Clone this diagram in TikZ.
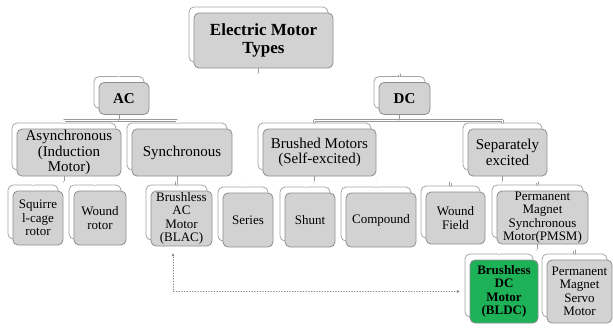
\documentclass[tikz,border=0pt]{standalone}
\usepackage{fontspec}
\setmainfont{Liberation Serif}
\usetikzlibrary{shadows,arrows.meta}
\definecolor{boxgray}{HTML}{D2D2D2}
\definecolor{edgegray}{HTML}{8E8E8E}
\definecolor{linegray}{HTML}{9A9A9A}
\definecolor{bldcgreen}{HTML}{1DB257}

\begin{document}
\begin{tikzpicture}[x=1pt, y=-1pt,
                    line cap=round, line join=round,
                    card/.style={draw=edgegray, fill=boxgray, rounded corners=5pt,
                      line width=0.8pt, inner sep=0pt, align=center,
                      copy shadow={shadow xshift=-5pt, shadow yshift=6pt,
                        fill=white, draw=edgegray!80}},
                    boxsize/.style 2 args={minimum width=#1, minimum height=#2},
                    lvlzero/.style={card, font=\fontsize{17}{18}\selectfont\bfseries},
                    lvlone/.style={card, font=\fontsize{15}{16}\selectfont\bfseries},
                    lvltwo/.style={card, font=\fontsize{15}{15.5}\selectfont},
                    lvlthree/.style={card, font=\fontsize{13}{13.5}\selectfont},
                    stub/.style={draw=linegray, line width=0.8pt},
                    bus/.style={draw=linegray, line width=0.5pt, double=white, double distance=1.4pt},
                    hint/.style={draw=gray, dotted, line width=0.7pt,
                      {Stealth[length=3pt,width=3pt]}-{Stealth[length=3pt,width=3pt]}}]
  \useasboundingbox (0,0) rectangle (613,330);
  \def\drop{5.5}

  % root and first level
  \node[lvlzero, boxsize={139}{55}] (types) at (263.5,40.5) {Electric Motor\\Types};
  \node[lvlone, boxsize={50}{32}] (ac) at (124,98.5) {AC};
  \node[lvlone, boxsize={51}{32}] (dc) at (404.5,98.5) {DC};

  % second level
  \node[lvltwo, boxsize={104}{47}] (async) at (69,152.5) {Asynchronous\\(Induction\\Motor)};
  \node[lvltwo, boxsize={100}{47}] (sync) at (182,152.5) {Synchronous};
  \node[lvltwo, boxsize={113}{47}] (brushed) at (319.5,152.5) {Brushed Motors\\(Self-excited)};
  \node[lvltwo, boxsize={79}{47}] (sepex) at (507.5,152.5) {Separately\\excited};

  % third level
  \node[lvlthree, boxsize={50}{54}] (squirrel) at (38,218) {Squirre\\l-cage\\rotor};
  \node[lvlthree, boxsize={52}{54}] (woundrotor) at (100,218) {Wound\\rotor};
  \node[lvlthree, boxsize={61}{55}] (blac) at (181.5,218.5) {Brushless\\AC\\Motor\\(BLAC)};
  \node[lvlthree, boxsize={50}{54}] (series) at (248,220) {Series};
  \node[lvlthree, boxsize={50}{54}] (shunt) at (310,220) {Shunt};
  \node[lvlthree, boxsize={70}{54}] (compound) at (381,220) {Compound};
  \node[lvlthree, boxsize={59}{52}] (woundfield) at (455.5,218) {Wound\\Field};
  \node[lvlthree, boxsize={91}{53}] (pmsm) at (542.5,217.5) {Permanent\\Magnet\\Synchronous\\Motor(PMSM)};

  % fourth level
  \node[lvlthree, boxsize={68}{63}, fill=bldcgreen, font=\fontsize{13}{13.5}\selectfont\bfseries]
    (bldc) at (504,291.5) {Brushless\\DC\\Motor\\(BLDC)};
  \node[lvlthree, boxsize={65}{63}] (servo) at (579.5,291.5) {Permanent\\Magnet\\Servo\\Motor};

  % connectors, from back card to back card
  \foreach \p/\c in {types/ac, types/dc, ac/async, ac/sync, dc/brushed, dc/sepex,
                     async/squirrel, async/woundrotor, sync/blac,
                     brushed/series, brushed/shunt, brushed/compound,
                     sepex/woundfield, sepex/pmsm, pmsm/bldc, pmsm/servo}{
    \draw[stub] ([xshift=-5pt]\p.south) -- ++(0,\drop) coordinate (joint);
    \draw[bus] (joint) -| ([shift={(-5pt,6pt)}]\c.north);
  }

  % BLDC and BLAC related
  \draw[hint] ([xshift=-10pt]bldc.west) -| ([xshift=-8.5pt,yshift=-7pt]blac.south);
\end{tikzpicture}
\end{document}
